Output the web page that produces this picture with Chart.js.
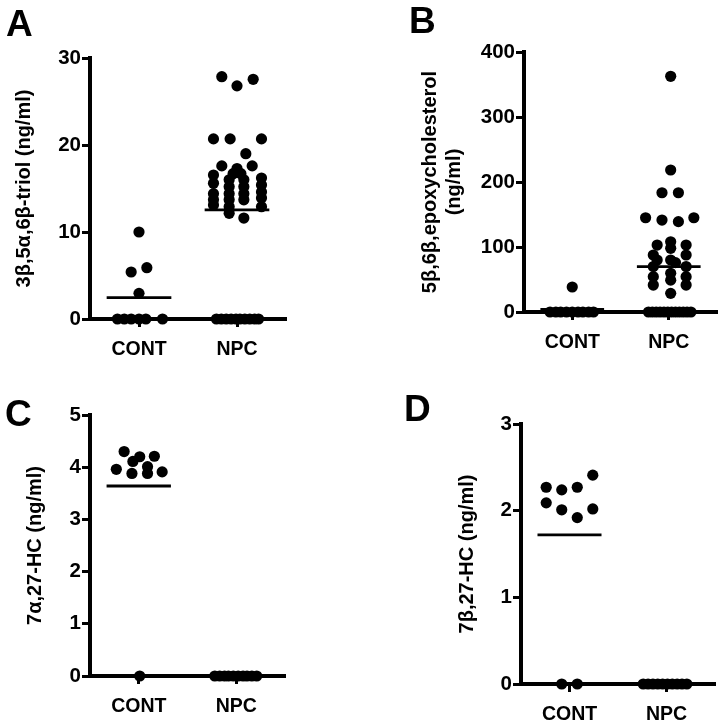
<!DOCTYPE html>
<html>
<head>
<meta charset="utf-8">
<script src="https://cdn.jsdelivr.net/npm/chart.js@4.4.1/dist/chart.umd.min.js"></script>
<style>
  html, body { margin: 0; padding: 0; background: #fff; }
  #wrap { position: relative; width: 724px; height: 724px; overflow: hidden; }
  .panel { position: absolute; width: 362px; height: 362px; }
  .letter { position: absolute; font: bold 37px 'Liberation Sans', Arial, sans-serif; line-height: 37px; color: #000; }
</style>
</head>
<body>
<div id="wrap">
  <div class="panel" style="left:0;top:0"><canvas id="chartA" width="362" height="362"></canvas></div>
  <div class="panel" style="left:362px;top:0"><canvas id="chartB" width="362" height="362"></canvas></div>
  <div class="panel" style="left:0;top:362px"><canvas id="chartC" width="362" height="362"></canvas></div>
  <div class="panel" style="left:362px;top:362px"><canvas id="chartD" width="362" height="362"></canvas></div>
  <div class="letter" style="left:6px;top:5px">A</div>
  <div class="letter" style="left:409px;top:2px">B</div>
  <div class="letter" style="left:5px;top:395px">C</div>
  <div class="letter" style="left:404px;top:390px">D</div>
</div>
<script>
/* dot plots: individual values (dots) + group mean (line) */

const GROUPS = ['CONT', 'NPC'];

/* ── A: 3β,5α,6β-triol ── */
const A_TICKS    = [0, 10, 20, 30];
const A_CONT     = [10, 5.4, 5.9, 2.95, 0, 0, 0, 0, 0, 0];
const A_CONT_DX  = [0, -0.08, 0.08, 0, -0.22, -0.15, -0.08, 0, 0.07, 0.24];
const A_NPC      = [27.85, 26.8, 27.55, 20.7, 20.7, 20.7, 19.0, 17.6, 17.6, 17.3, 16.7, 16.7,
                    16.55, 15.6, 14.4, 13.7, 13.1,
                    16.0, 15.2, 14.4, 13.7, 12.9, 12.15,
                    16.0, 15.2, 14.4, 13.7, 11.6,
                    16.2, 15.4, 14.6, 13.9, 12.9,
                    0, 0, 0, 0, 0, 0, 0, 0, 0, 0];
const A_NPC_DX   = [-0.155, 0, 0.165, -0.24, -0.07, 0.25, 0.09, -0.155, 0.155, 0, -0.04, 0.04,
                    -0.24, -0.24, -0.24, -0.24, -0.24,
                    -0.08, -0.08, -0.08, -0.08, -0.08, -0.08,
                    0.07, 0.07, 0.07, 0.07, 0.07,
                    0.25, 0.25, 0.25, 0.25, 0.25,
                    -0.21, -0.16, -0.11, -0.06, -0.01, 0.03, 0.08, 0.13, 0.18, 0.22];
const A_MEANS    = [2.45, 12.55];

/* ── B: 5β,6β-epoxycholesterol ── */
const B_TICKS    = [0, 100, 200, 300, 400];
const B_CONT     = [38.5, 0, 0, 0, 0, 0, 0, 0, 0, 0];
const B_CONT_DX  = [0, -0.23, -0.17, -0.12, -0.06, 0, 0.06, 0.11, 0.17, 0.22];
const B_NPC      = [362.6, 218.5, 183.5, 183.5, 145, 141.5, 139, 145,
                    103, 108, 98, 103, 87.7, 80, 80, 76, 87.7, 70, 70,
                    54.4, 41.5, 59.5, 49, 54.4, 41.5, 28.7,
                    0, 0, 0, 0, 0, 0, 0, 0, 0, 0, 0, 0];
const B_NPC_DX   = [0.02, 0.02, -0.07, 0.1, -0.24, -0.07, 0.1, 0.26,
                    -0.12, 0.02, 0.02, 0.18, -0.16, -0.12, 0.02, 0.07, 0.18, -0.16, 0.18,
                    -0.16, -0.16, 0.02, 0.02, 0.18, 0.18, 0.02,
                    -0.21, -0.17, -0.13, -0.09, -0.05, -0.01, 0.03, 0.07, 0.11, 0.15, 0.19, 0.23];
const B_MEANS    = [3.9, 69.7];

/* ── C: 7α,27-HC ── */
const C_TICKS    = [0, 1, 2, 3, 4, 5];
const C_CONT     = [3.96, 4.30, 4.11, 3.88, 4.20, 4.01, 3.88, 4.21, 3.91, 0];
const C_CONT_DX  = [-0.23, -0.15, -0.06, -0.07, 0.01, 0.09, 0.09, 0.16, 0.24, 0.01];
const C_NPC      = [0, 0, 0, 0, 0, 0, 0, 0, 0, 0];
const C_NPC_DX   = [-0.22, -0.17, -0.12, -0.08, -0.03, 0.02, 0.07, 0.11, 0.16, 0.21];
const C_MEANS    = [3.64, 0];

/* ── D: 7β,27-HC ── */
const D_TICKS    = [0, 1, 2, 3];
const D_CONT     = [2.27, 2.24, 2.27, 2.41, 2.09, 2.01, 1.92, 2.02, 0, 0];
const D_CONT_DX  = [-0.24, -0.08, 0.08, 0.24, -0.24, -0.08, 0.08, 0.24, -0.08, 0.08];
const D_NPC      = [0, 0, 0, 0, 0, 0, 0, 0, 0, 0];
const D_NPC_DX   = [-0.24, -0.19, -0.14, -0.09, -0.04, 0.01, 0.06, 0.11, 0.16, 0.21];
const D_MEANS    = [1.72, 0];

const MEAN_HALF = 0.33;   // half-width of the mean bar, in group units
const SIZE = 362;
const FONT = "'Liberation Sans', Arial, sans-serif";

function toPoints(values, dx, center) {
  return values.map((v, i) => ({ x: center + dx[i], y: v }));
}

function renderPanel(canvasId, p) {
  const datasets = [];
  p.groups.forEach((g, gi) => {
    const c = gi + 1;
    datasets.push({
      data: toPoints(g.y, g.dx, c),
      backgroundColor: '#000', borderColor: '#000',
      pointRadius: 5.6, pointHoverRadius: 5.6, borderWidth: 0, clip: false,
    });
    datasets.push({
      data: [{ x: c - MEAN_HALF, y: p.means[gi] }, { x: c + MEAN_HALF, y: p.means[gi] }],
      showLine: true, borderColor: '#000', borderWidth: 2.8, pointRadius: 0, clip: false,
    });
  });

  new Chart(document.getElementById(canvasId), {
    type: 'scatter',
    data: { datasets },
    options: {
      responsive: false, animation: false, events: [],
      layout: { padding: { left: 0, top: p.area.t, right: SIZE - p.area.r, bottom: 0 } },
      plugins: { legend: { display: false }, tooltip: { enabled: false } },
      scales: {
        x: {
          type: 'linear', min: 0.5, max: 2.5,
          afterBuildTicks: ax => { ax.ticks = GROUPS.map((_, i) => ({ value: i + 1 })); },
          afterFit: ax => { ax.height = SIZE - p.area.b; },
          ticks: {
            callback: v => GROUPS[v - 1] || '',
            color: '#000', padding: 11, maxRotation: 0, autoSkip: false,
            font: { family: FONT, size: 19.5, weight: 'bold' },
          },
          grid: { drawOnChartArea: false, drawTicks: true, tickLength: 8, tickWidth: 3, color: '#000' },
          border: { display: true, width: 4, color: '#000' },
        },
        y: {
          min: 0, max: p.ticks[p.ticks.length - 1],
          afterBuildTicks: ax => { ax.ticks = p.ticks.map(v => ({ value: v })); },
          afterFit: ax => { ax.width = p.area.l; },
          ticks: {
            color: '#000', padding: 1,
            font: { family: FONT, size: 20.5, weight: 'bold' },
          },
          grid: { drawOnChartArea: false, drawTicks: true, tickLength: 8, tickWidth: 3, color: '#000' },
          border: { display: true, width: 4, color: '#000' },
          title: {
            display: true, text: p.title, color: '#000',
            font: { family: FONT, size: 20, weight: 'bold', lineHeight: 1.2 },
            padding: { top: p.titlePad, bottom: 0 },
          },
        },
      },
    },
  });
}

renderPanel('chartA', {
  groups: [{ y: A_CONT, dx: A_CONT_DX }, { y: A_NPC, dx: A_NPC_DX }],
  means: A_MEANS, ticks: A_TICKS,
  title: '3β,5α,6β-triol (ng/ml)', titlePad: 12,
  area: { l: 90, t: 58, r: 286, b: 319 },
});
renderPanel('chartB', {
  groups: [{ y: B_CONT, dx: B_CONT_DX }, { y: B_NPC, dx: B_NPC_DX }],
  means: B_MEANS, ticks: B_TICKS,
  title: ['5β,6β,epoxycholesterol', '(ng/ml)'], titlePad: 56,
  area: { l: 162, t: 52, r: 355, b: 312 },
});
renderPanel('chartC', {
  groups: [{ y: C_CONT, dx: C_CONT_DX }, { y: C_NPC, dx: C_NPC_DX }],
  means: C_MEANS, ticks: C_TICKS,
  title: '7α,27-HC (ng/ml)', titlePad: 23,
  area: { l: 90, t: 53, r: 285, b: 314 },
});
renderPanel('chartD', {
  groups: [{ y: D_CONT, dx: D_CONT_DX }, { y: D_NPC, dx: D_NPC_DX }],
  means: D_MEANS, ticks: D_TICKS,
  title: '7β,27-HC (ng/ml)', titlePad: 93,
  area: { l: 159, t: 62, r: 353, b: 322 },
});
</script>
</body>
</html>
